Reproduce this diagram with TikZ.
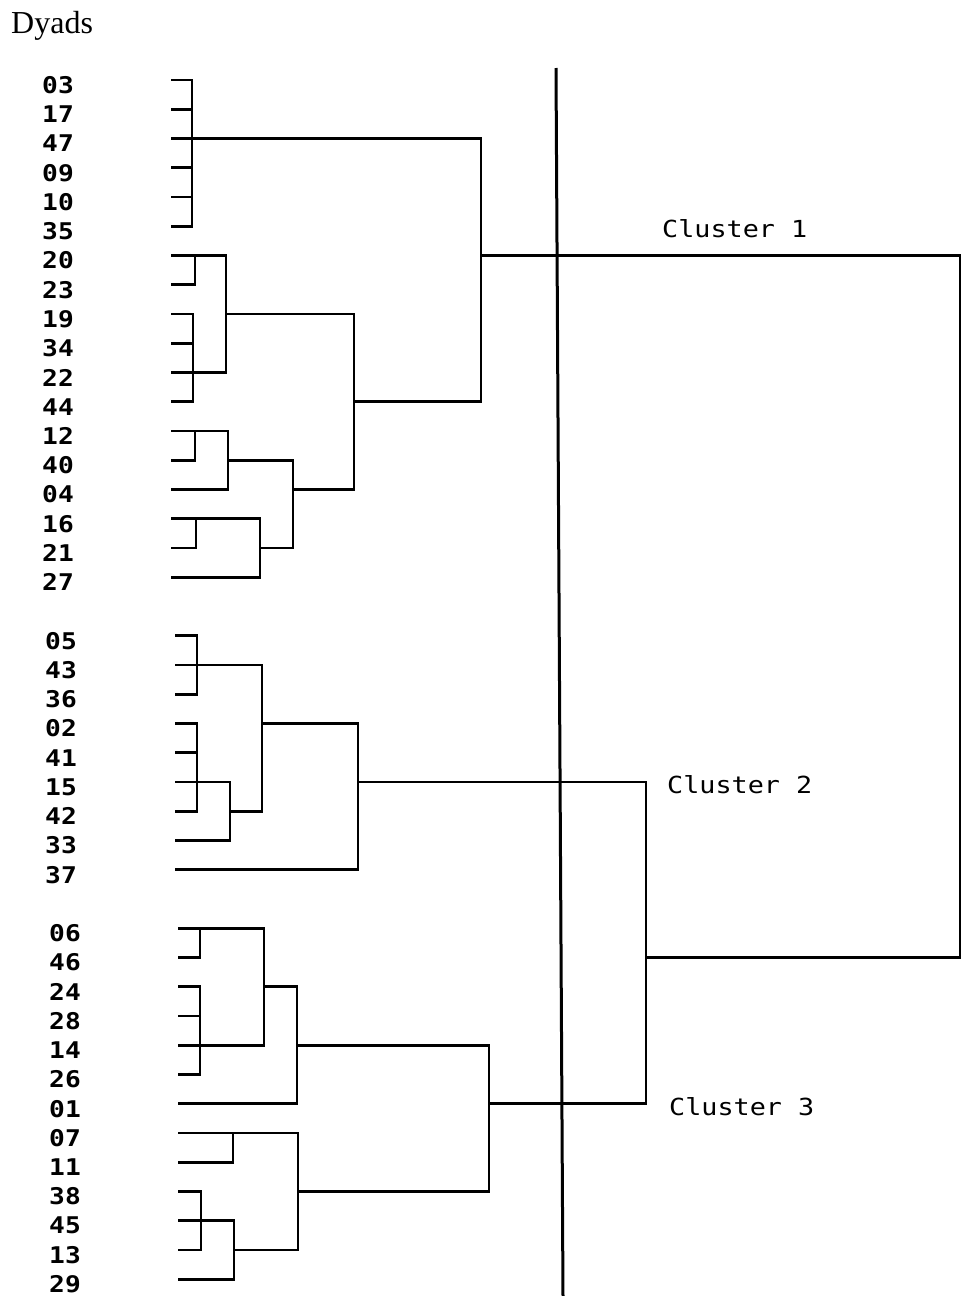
\documentclass[tikz,border=0pt]{standalone}
\usepackage{fontspec}
\setmainfont{Liberation Serif}
\newfontfamily\plotter[FakeStretch=1.14]{DejaVu Sans Mono}
\tikzset{
  dyad/.style={anchor=east, inner sep=0pt, font=\plotter\bfseries\fontsize{23}{24}\selectfont},
  cluster/.style={anchor=west, inner sep=0pt, font=\plotter\fontsize{23.5}{24}\selectfont},
  title/.style={anchor=base west, inner sep=0pt, font=\fontsize{32}{34}\selectfont},
  branch/.style={draw=black, line width=2.6pt},
  cutline/.style={draw=black, line width=3pt}
}

\begin{document}
\begin{tikzpicture}[x=1pt, y=-1pt]
  \useasboundingbox (0,0) rectangle (961,1296);
  \node[title] (dyads) at (11,33) {Dyads};

  % leaves
  \foreach \d [count=\i from 0] in {03,17,47,09,10,35,20,23,19,34,22,44,12,40,04,16,21,27}{
    \node[dyad] (l\d) at (74,85+29.25*\i) {\d};
    \coordinate (s\d) at (171,80+29.25*\i);
  }
  \foreach \d [count=\i from 19] in {05,43,36,02,41,15,42,33,37}{
    \node[dyad] (l\d) at (77,85+29.25*\i) {\d};
    \coordinate (s\d) at (175,80+29.25*\i);
  }
  \foreach \d [count=\i from 29] in {06,46,24,28,14,26,01,07,11,38,45,13,29}{
    \node[dyad] (l\d) at (81,85+29.25*\i) {\d};
    \coordinate (s\d) at (178,80+29.25*\i);
  }

  % cluster 1
  \coordinate (a1) at (192,0 |- s47);
  \coordinate (a2) at (195,0 |- s20);
  \coordinate (a3) at (193,0 |- s22);
  \coordinate (a4) at (226,0 |- s19);
  \coordinate (a5) at (195,0 |- s12);
  \coordinate (a6) at (228,0 |- s40);
  \coordinate (a7) at (196,0 |- s16);
  \coordinate (a8) at (260,0 |- s21);
  \coordinate (a9) at (293,0 |- s04);
  \coordinate (a10) at (354,0 |- s44);
  \coordinate (c1) at (481,0 |- s20);
  \foreach \d in {03,17,47,09,10,35} \draw[branch] (s\d) -| (a1);
  \foreach \d in {20,23} \draw[branch] (s\d) -| (a2);
  \foreach \d in {19,34,22,44} \draw[branch] (s\d) -| (a3);
  \foreach \d in {12,40} \draw[branch] (s\d) -| (a5);
  \foreach \d in {16,21} \draw[branch] (s\d) -| (a7);
  \draw[branch] (a2) -| (a4);
  \draw[branch] (a3) -| (a4);
  \draw[branch] (a5) -| (a6);
  \draw[branch] (s04) -| (a6);
  \draw[branch] (a7) -| (a8);
  \draw[branch] (s27) -| (a8);
  \draw[branch] (a6) -| (a9);
  \draw[branch] (a8) -| (a9);
  \draw[branch] (a4) -| (a10);
  \draw[branch] (a9) -| (a10);
  \draw[branch] (a1) -| (c1);
  \draw[branch] (a10) -| (c1);

  % cluster 2
  \coordinate (b1) at (197,0 |- s43);
  \coordinate (b2) at (197,0 |- s15);
  \coordinate (b3) at (230,0 |- s42);
  \coordinate (b4) at (262,0 |- s02);
  \coordinate (c2) at (358,0 |- s15);
  \foreach \d in {05,43,36} \draw[branch] (s\d) -| (b1);
  \foreach \d in {02,41,15,42} \draw[branch] (s\d) -| (b2);
  \draw[branch] (b2) -| (b3);
  \draw[branch] (s33) -| (b3);
  \draw[branch] (b1) -| (b4);
  \draw[branch] (b3) -| (b4);
  \draw[branch] (b4) -| (c2);
  \draw[branch] (s37) -| (c2);

  % cluster 3
  \coordinate (d1) at (200,0 |- s06);
  \coordinate (d2) at (200,0 |- s14);
  \coordinate (d3) at (264,0 |- s24);
  \coordinate (d4) at (297,0 |- s14);
  \coordinate (d5) at (233,0 |- s07);
  \coordinate (d6) at (201,0 |- s45);
  \coordinate (d7) at (234,0 |- s13);
  \coordinate (d8) at (298,0 |- s38);
  \coordinate (c3) at (489,0 |- s01);
  \foreach \d in {06,46} \draw[branch] (s\d) -| (d1);
  \foreach \d in {24,28,14,26} \draw[branch] (s\d) -| (d2);
  \foreach \d in {07,11} \draw[branch] (s\d) -| (d5);
  \foreach \d in {38,45,13} \draw[branch] (s\d) -| (d6);
  \draw[branch] (d1) -| (d3);
  \draw[branch] (d2) -| (d3);
  \draw[branch] (d3) -| (d4);
  \draw[branch] (s01) -| (d4);
  \draw[branch] (d6) -| (d7);
  \draw[branch] (s29) -| (d7);
  \draw[branch] (d5) -| (d8);
  \draw[branch] (d7) -| (d8);
  \draw[branch] (d4) -| (c3);
  \draw[branch] (d8) -| (c3);

  % top joins
  \coordinate (c23) at (646,0 |- s46);
  \coordinate (root) at (960,606);
  \draw[branch] (c2) -| (c23);
  \draw[branch] (c3) -| (c23);
  \draw[branch] (c1) -| (root);
  \draw[branch] (c23) -| (root);

  % cut
  \coordinate (cuttop) at (556,68);
  \coordinate (cutbot) at (563,1296);
  \draw[cutline] (cuttop) -- (cutbot);

  \node[cluster] (k1) at (662,229) {Cluster 1};
  \node[cluster] (k2) at (667,785) {Cluster 2};
  \node[cluster] (k3) at (669,1107) {Cluster 3};
\end{tikzpicture}
\end{document}
